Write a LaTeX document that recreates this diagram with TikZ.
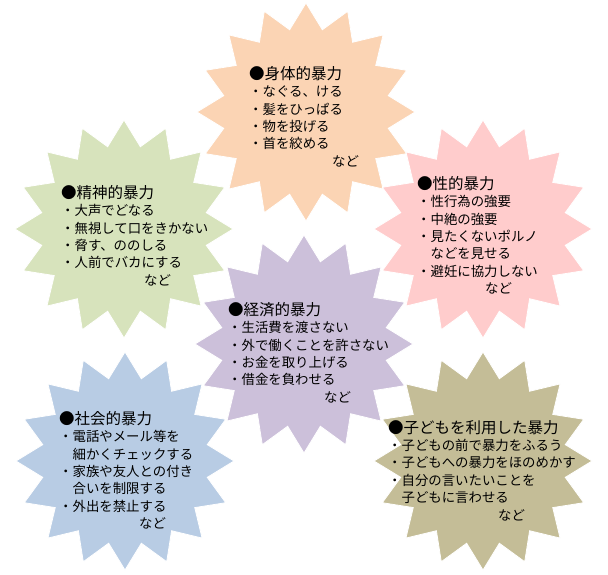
\documentclass[tikz,border=0pt]{standalone}
\usepackage{fontspec}
\newfontfamily\jpfont{Noto Sans CJK JP}
\usetikzlibrary{shapes.geometric}
\definecolor{vPhys}{RGB}{251,212,180}
\definecolor{vPsych}{RGB}{215,227,188}
\definecolor{vSex}{RGB}{255,204,204}
\definecolor{vEcon}{RGB}{204,192,218}
\definecolor{vSocial}{RGB}{184,204,228}
\definecolor{vChild}{RGB}{196,189,151}
\tikzset{
  burst/.style={star, star points=16, star point ratio=1.3, minimum size=218pt, inner sep=0pt, draw=white, line width=0.8pt},
  burstText/.style={anchor=north west, inner sep=0pt, align=left, font=\jpfont\fontsize{13.4pt}{17.4pt}\selectfont, text=black}
}
\newcommand{\vhead}[1]{{\fontsize{15.5pt}{18pt}\selectfont ●#1}}
\begin{document}
\begin{tikzpicture}[x=1pt,y=-1pt]
    \useasboundingbox (0,0) rectangle (608,575);

    % Starbursts
    \node[burst, fill=vPhys] (physStar) at (306,112) {};
    \node[burst, fill=vPsych] (psychStar) at (124,229) {};
    \node[burst, fill=vSex] (sexStar) at (483,229) {};
    \node[burst, fill=vEcon] (econStar) at (304,344) {};
    \node[burst, fill=vSocial] (socialStar) at (125,461) {};
    \node[burst, fill=vChild] (childStar) at (483,461) {};

    % Texts
    \node[burstText] (physText) at (249,66) {\vhead{身体的暴力}\\・なぐる、ける\\・髪をひっぱる\\・物を投げる\\・首を絞める\\\hspace*{83pt}など};
    \node[burstText] (psychText) at (61,185) {\vhead{精神的暴力}\\・大声でどなる\\・無視して口をきかない\\・脅す、ののしる\\・人前でバカにする\\\hspace*{83pt}など};
    \node[burstText] (sexText) at (417,176) {\vhead{性的暴力}\\・性行為の強要\\・中絶の強要\\・見たくないポルノ\\\hspace*{1em}などを見せる\\・避妊に協力しない\\\hspace*{68pt}など};
    \node[burstText] (econText) at (228,302) {\vhead{経済的暴力}\\・生活費を渡さない\\・外で働くことを許さない\\・お金を取り上げる\\・借金を負わせる\\\hspace*{96pt}など};
    \node[burstText] (socialText) at (59,411) {\vhead{社会的暴力}\\・電話やメール等を\\\hspace*{1em}細かくチェックする\\・家族や友人との付き\\\hspace*{1em}合いを制限する\\・外出を禁止する\\\hspace*{80pt}など};
    \node[burstText] (childText) at (388,420) {\vhead{子どもを利用した暴力}\\・子どもの前で暴力をふるう\\・子どもへの暴力をほのめかす\\・自分の言いたいことを\\\hspace*{1em}子どもに言わせる\\\hspace*{110pt}など};
\end{tikzpicture}
\end{document}
